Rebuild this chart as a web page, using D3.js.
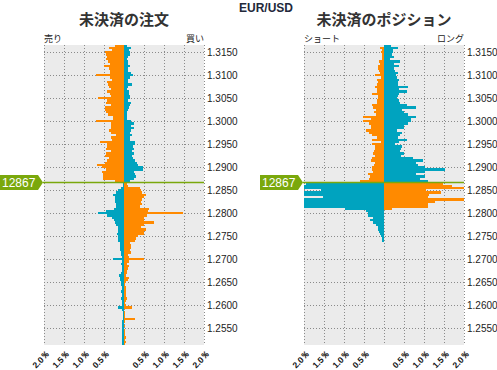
<!DOCTYPE html>
<html>
<head>
<meta charset="utf-8">
<script src="https://cdn.jsdelivr.net/npm/d3@7/dist/d3.min.js"></script>
<style>
body { margin: 0; background: #fff; }
svg text { font-family: "Liberation Sans", Arial, sans-serif; }
svg .jp { font-family: "Noto Sans CJK JP", sans-serif; }
</style>
</head>
<body>
<div id="chart"></div>
<script>
var pairName = "EUR/USD";
var currentPrice = 1.2867;
var currentLabel = "12867";

// price buckets, top to bottom (0.0005 wide)
var priceLevels = [
  1.3165,1.3160,1.3155,1.3150,1.3145,1.3140,1.3135,1.3130,1.3125,1.3120,
  1.3115,1.3110,1.3105,1.3100,1.3095,1.3090,1.3085,1.3080,1.3075,1.3070,
  1.3065,1.3060,1.3055,1.3050,1.3045,1.3040,1.3035,1.3030,1.3025,1.3020,
  1.3015,1.3010,1.3005,1.3000,1.2995,1.2990,1.2985,1.2980,1.2975,1.2970,
  1.2965,1.2960,1.2955,1.2950,1.2945,1.2940,1.2935,1.2930,1.2925,1.2920,
  1.2915,1.2910,1.2905,1.2900,1.2895,1.2890,1.2885,1.2880,1.2875,1.2870,
  1.2865,1.2860,1.2855,1.2850,1.2845,1.2840,1.2835,1.2830,1.2825,1.2820,
  1.2815,1.2810,1.2805,1.2800,1.2795,1.2790,1.2785,1.2780,1.2775,1.2770,
  1.2765,1.2760,1.2755,1.2750,1.2745,1.2740,1.2735,1.2730,1.2725,1.2720,
  1.2715,1.2710,1.2705,1.2700,1.2695,1.2690,1.2685,1.2680,1.2675,1.2670,
  1.2665,1.2660,1.2655,1.2650,1.2645,1.2640,1.2635,1.2630,1.2625,1.2620,
  1.2615,1.2610,1.2605,1.2600,1.2595,1.2590,1.2585,1.2580,1.2575,1.2570,
  1.2565,1.2560,1.2555,1.2550,1.2545,1.2540,1.2535,1.2530,1.2525,1.2520,
  1.2515
];

// open orders (%), sell side / buy side
var orderSell = [
  0.23,0.38,0.31,0.48,0.46,0.43,0.44,0.39,0.35,0.51,
  0.38,0.35,0.36,0.70,0.35,0.29,0.43,0.40,0.37,0.33,
  0.43,0.36,0.33,0.65,0.43,0.44,0.33,0.48,0.47,0.46,
  0.40,0.27,0.27,0.70,0.33,0.33,0.33,0.37,0.33,0.21,
  0.33,0.29,0.60,0.42,0.43,0.44,0.33,0.45,0.48,0.37,
  0.42,0.48,0.68,0.54,0.45,0.54,0.53,0.53,0.53,0.23,
  0.03,0.03,0.07,0.14,0.20,0.28,0.22,0.22,0.22,0.20,
  0.21,0.26,0.44,0.66,0.43,0.31,0.24,0.23,0.19,0.14,
  0.14,0.16,0.18,0.16,0.16,0.14,0.11,0.11,0.11,0.09,
  0.08,0.08,0.06,0.27,0.06,0.08,0.06,0.06,0.06,0.08,
  0.12,0.09,0.09,0.08,0.08,0.06,0.06,0.08,0.06,0.06,
  0.08,0.05,0.05,0.06,0.16,0.04,0.03,0.03,0.03,0.03,
  0.04,0.04,0.06,0.04,0.04,0.04,0.04,0.04,0.04,0.04,
  0.04
];
var orderBuy = [
  0.07,0.18,0.13,0.15,0.16,0.11,0.07,0.09,0.11,0.14,
  0.11,0.10,0.18,0.23,0.14,0.10,0.09,0.19,0.10,0.08,
  0.13,0.12,0.14,0.16,0.11,0.18,0.15,0.13,0.09,0.08,
  0.08,0.08,0.08,0.18,0.25,0.18,0.25,0.17,0.16,0.21,
  0.16,0.14,0.27,0.28,0.23,0.25,0.21,0.26,0.21,0.23,
  0.27,0.33,0.36,0.48,0.48,0.24,0.28,0.29,0.24,0.14,
  0.08,0.11,0.39,0.43,0.45,0.56,0.49,0.46,0.43,0.45,
  0.40,0.63,0.60,1.48,0.57,0.51,0.51,0.76,0.51,0.43,
  0.56,0.49,0.51,0.34,0.30,0.28,0.14,0.18,0.18,0.16,
  0.18,0.09,0.12,0.49,0.13,0.08,0.13,0.09,0.08,0.08,
  0.06,0.13,0.11,0.06,0.03,0.06,0.05,0.05,0.06,0.05,
  0.07,0.04,0.03,0.05,0.20,0.01,0.03,0.02,0.02,0.28,
  0.02,0.01,0.03,0.01,0.02,0.03,0.02,0.04,0.03,0.04,
  0.03
];

// open positions (%), short side / long side
var posShort = [
  0.00,0.09,0.06,0.07,0.06,0.04,0.05,0.12,0.11,0.14,
  0.14,0.12,0.11,0.22,0.08,0.18,0.16,0.18,0.22,0.18,
  0.17,0.29,0.14,0.16,0.18,0.17,0.29,0.28,0.20,0.24,
  0.21,0.52,0.33,0.52,0.37,0.32,0.33,0.44,0.38,0.30,
  0.17,0.30,0.07,0.30,0.22,0.23,0.25,0.28,0.22,0.29,
  0.33,0.23,0.26,0.29,0.29,0.28,0.40,0.35,0.38,0.60,
  1.94,2.30,2.30,1.57,2.30,2.30,1.52,2.30,2.30,2.30,
  2.30,0.98,0.45,0.40,0.40,0.27,0.36,0.27,0.20,0.16,
  0.14,0.12,0.10,0.08,0.06,0.04,0,0,0,0,
  0,0,0,0,0,0,0,0,0,0,
  0,0,0,0,0,0,0,0,0,0,
  0,0,0,0,0,0,0,0,0,0,
  0,0,0,0,0,0,0,0,0,0,
  0
];
var posLong = [
  0.18,0.36,0.22,0.22,0.20,0.24,0.15,0.41,0.26,0.38,
  0.24,0.28,0.34,0.30,0.33,0.38,0.35,0.36,0.61,0.37,
  0.58,0.38,0.35,0.33,0.38,0.41,0.58,0.81,0.44,0.50,
  0.61,0.81,0.67,0.68,0.61,0.50,0.51,0.32,0.45,0.40,
  0.35,0.58,0.37,0.27,0.45,0.43,0.40,0.50,0.42,0.73,
  0.98,0.80,0.86,1.03,1.52,1.03,0.80,1.02,0.90,1.11,
  1.48,1.71,2.30,1.06,1.42,1.12,1.10,2.30,1.27,1.09,
  1.09,0.20,0,0,0,0,0,0,0,0,
  0,0,0,0,0,0,0,0,0,0,
  0,0,0,0,0,0,0,0,0,0,
  0,0,0,0,0,0,0,0,0,0,
  0,0,0,0,0,0,0,0,0,0,
  0,0,0,0,0,0,0,0,0,0,
  0
];

var yTicks = [1.3150,1.3100,1.3050,1.3000,1.2950,1.2900,1.2850,1.2800,1.2750,1.2700,1.2650,1.2600,1.2550];
var xTicks = [-2,-1.5,-1,-0.5,0,0.5,1,1.5,2];

var bucket = 0.0005;
var orange = "#ff8a00", teal = "#00a3bf", green = "#7aa80c";
var plotTop = 45, plotBottom = 345, plotWidth = 160;

var svg = d3.select("#chart").append("svg")
    .attr("width", 497)
    .attr("height", 370);

var y = d3.scaleLinear().domain([1.31659, 1.25137]).range([plotTop, plotBottom]);

svg.append("text")
    .attr("x", 266).attr("y", 12)
    .attr("text-anchor", "middle")
    .style("font-size", "12px").style("font-weight", "bold").style("fill", "#22283a")
    .text(pairName);

function drawPanel(id, left, title, leftName, rightName, leftVals, rightVals) {
    var x = d3.scaleLinear().domain([-2, 2]).range([left, left + plotWidth]);
    var g = svg.append("g");

    g.append("clipPath").attr("id", id)
      .append("rect")
        .attr("x", left).attr("y", plotTop)
        .attr("width", plotWidth).attr("height", plotBottom - plotTop);

    g.append("rect")
        .attr("x", left).attr("y", plotTop)
        .attr("width", plotWidth).attr("height", plotBottom - plotTop)
        .style("fill", "#ebebeb");

    // dotted grid
    g.selectAll(".vgrid").data(xTicks).enter().append("line")
        .attr("x1", function (d) { return Math.round(x(d)) + 0.5; })
        .attr("x2", function (d) { return Math.round(x(d)) + 0.5; })
        .attr("y1", plotTop).attr("y2", plotBottom)
        .style("stroke", "#8a8a8a").style("stroke-dasharray", "1,2");
    g.selectAll(".hgrid").data(yTicks).enter().append("line")
        .attr("x1", left).attr("x2", left + plotWidth)
        .attr("y1", function (d) { return Math.round(y(d)) + 0.5; })
        .attr("y2", function (d) { return Math.round(y(d)) + 0.5; })
        .style("stroke", "#8a8a8a").style("stroke-dasharray", "1,2");

    var bars = g.append("g").attr("clip-path", "url(#" + id + ")");
    var rows = priceLevels.map(function (p, i) { return { p: p, l: leftVals[i], r: rightVals[i] }; });
    function above(d) { return d.p > currentPrice; }

    bars.selectAll(".lbar").data(rows).enter().append("rect")
        .attr("x", function (d) { return x(-d.l); })
        .attr("width", function (d) { return x(0) - x(-d.l); })
        .attr("y", function (d) { return y(d.p + bucket / 2); })
        .attr("height", function (d) { return y(d.p - bucket / 2) - y(d.p + bucket / 2); })
        .style("fill", function (d) { return above(d) ? orange : teal; })
        .attr("shape-rendering", "crispEdges");
    bars.selectAll(".rbar").data(rows).enter().append("rect")
        .attr("x", x(0))
        .attr("width", function (d) { return x(d.r) - x(0); })
        .attr("y", function (d) { return y(d.p + bucket / 2); })
        .attr("height", function (d) { return y(d.p - bucket / 2) - y(d.p + bucket / 2); })
        .style("fill", function (d) { return above(d) ? teal : orange; })
        .attr("shape-rendering", "crispEdges");

    // current price
    var cy = y(currentPrice);
    g.append("line")
        .attr("x1", left - 1).attr("x2", left + plotWidth)
        .attr("y1", cy).attr("y2", cy)
        .style("stroke", green).style("stroke-width", 1.3);
    g.append("polygon")
        .attr("points", [[left - 44, cy - 7.5], [left - 6, cy - 7.5], [left - 1, cy], [left - 6, cy + 7.5], [left - 44, cy + 7.5]].join(" "))
        .style("fill", green);
    g.append("text")
        .attr("x", left - 42).attr("y", cy + 4.5)
        .style("font-size", "12px").style("fill", "#fff")
        .text(currentLabel);

    // price axis
    var yAxis = g.append("g")
        .attr("transform", "translate(" + (left + plotWidth) + ",0)")
        .call(d3.axisRight(y).tickValues(yTicks).tickFormat(d3.format(".4f")).tickSize(0).tickPadding(3));
    yAxis.select(".domain").remove();
    yAxis.selectAll("text").style("font-size", "10px").style("fill", "#222").style("font-family", "Liberation Sans, Arial, sans-serif");

    // percent axis
    var xAxis = g.append("g")
        .attr("transform", "translate(0," + plotBottom + ")")
        .call(d3.axisBottom(x).tickValues(xTicks).tickSize(0)
            .tickFormat(function (d) { return d === 0 ? "" : d3.format(".1f")(Math.abs(d)) + "％"; }));
    xAxis.select(".domain").remove();
    xAxis.selectAll("text")
        .attr("x", 0).attr("y", 0).attr("dy", "0.35em")
        .attr("transform", "translate(4,7) rotate(-45)")
        .style("text-anchor", "end")
        .style("font-size", "8.5px").style("font-weight", "bold").style("fill", "#111")
        .style("font-family", "Liberation Sans, Arial, sans-serif");

    // titles
    g.append("text").attr("class", "jp")
        .attr("x", left + plotWidth / 2).attr("y", 25)
        .attr("text-anchor", "middle")
        .style("font-size", "15px").style("font-weight", "bold").style("fill", "#333")
        .text(title);
    g.append("text").attr("class", "jp")
        .attr("x", left).attr("y", 42)
        .style("font-size", "9px").style("fill", "#222")
        .text(leftName);
    g.append("text").attr("class", "jp")
        .attr("x", left + plotWidth).attr("y", 42)
        .attr("text-anchor", "end")
        .style("font-size", "9px").style("fill", "#222")
        .text(rightName);
}

drawPanel("clipOrders", 44, "未決済の注文", "売り", "買い", orderSell, orderBuy);
drawPanel("clipPositions", 304, "未決済のポジション", "ショート", "ロング", posShort, posLong);
</script>
</body>
</html>
